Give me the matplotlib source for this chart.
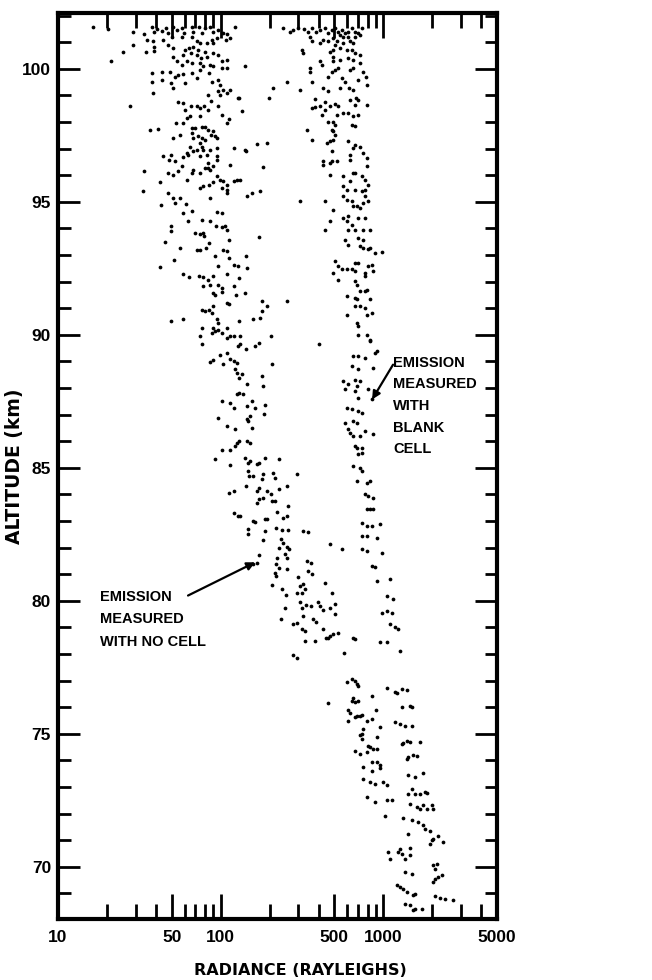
import matplotlib
matplotlib.use('Agg')
import matplotlib.pyplot as plt
from matplotlib.ticker import FixedLocator, NullFormatter

# points: (radiance in rayleighs, altitude in km)
no_cell = [
    (16.3, 101.56), (20.4, 101.49), (29.1, 101.38), (33.8, 101.31), (37.7, 101.59), (38.9, 101.40),
    (40.4, 101.49), (43.4, 101.44), (45.9, 101.53), (47.7, 101.36), (51.2, 101.56), (53.7, 101.46),
    (57.6, 101.53), (59.6, 101.34), (66.4, 101.56), (68.0, 101.40), (74.0, 101.59), (76.5, 101.34),
    (80.2, 101.55), (86.1, 101.59), (90.2, 101.40), (96.8, 101.46), (103, 101.36), (109, 101.31),
    (123, 101.59), (114, 101.15), (108, 101.09), (94.6, 101.15), (88.1, 101.09), (82.1, 100.96),
    (90.2, 100.96), (74.7, 100.96), (71.3, 101.03), (66.4, 101.21), (57.6, 101.21), (50.0, 101.21),
    (44.4, 101.09), (38.6, 101.03), (35.1, 101.09), (29.1, 100.90), (25.2, 100.63), (21.1, 100.30),
    (34.8, 100.65), (38.9, 100.84), (38.9, 100.69), (47.7, 100.90), (51.2, 100.80), (60.4, 100.71),
    (64.2, 100.78), (68.0, 100.84), (73.0, 100.71), (80.2, 100.65), (90.2, 100.59), (96.8, 100.53),
    (101.5, 100.28), (109, 100.34), (51.2, 100.46), (58.5, 100.53), (65.5, 100.61), (71.3, 100.53),
    (76.1, 100.40), (82.1, 100.46), (53.7, 100.28), (57.6, 100.15), (61.8, 100.28), (66.4, 100.21),
    (74.7, 100.21), (78.3, 100.09), (86.1, 100.15), (101.5, 100.03), (109, 100.03), (141, 100.09),
    (37.7, 99.84), (43.8, 99.59), (48.9, 99.90), (49.3, 99.46), (51.2, 99.27), (54.5, 99.77),
    (59.0, 99.81), (60.4, 99.46), (66.4, 99.84), (71.3, 99.65), (74.7, 99.96), (85.3, 99.84),
    (90.2, 100.09), (88.1, 99.52), (96.8, 99.59), (99.2, 99.40), (104, 99.21), (114, 99.21),
    (96.8, 99.15), (52.4, 99.71), (43.4, 99.90), (37.9, 99.52), (38.6, 99.09), (27.7, 98.59),
    (84.1, 99.02), (86.9, 98.81), (99.2, 99.02), (109, 99.11), (127, 98.90), (130, 98.90),
    (135, 98.40), (55.0, 98.77), (58.5, 98.71), (60.4, 98.46), (65.5, 98.59), (71.3, 98.59),
    (74.7, 98.52), (79.1, 98.59), (84.1, 98.46), (96.8, 98.59), (101.5, 98.27), (113, 98.11),
    (109, 97.96), (52.9, 97.96), (58.5, 97.96), (61.8, 98.15), (64.8, 98.21), (66.4, 97.77),
    (69.6, 97.77), (74.7, 98.21), (76.5, 97.83), (80.2, 97.83), (84.1, 97.71), (90.2, 97.65),
    (36.8, 97.71), (41.4, 97.73), (66.4, 97.58), (68.0, 97.40), (73.0, 97.46), (76.5, 97.40),
    (80.2, 97.33), (87.3, 97.52), (92.4, 97.46), (95.5, 97.40), (64.8, 97.08), (67.3, 96.90),
    (74.7, 97.21), (76.5, 97.08), (78.3, 96.96), (86.1, 96.96), (94.6, 97.02), (120, 97.02),
    (143, 96.93), (167, 97.18), (192, 97.23), (51.2, 97.40), (56.3, 97.52),
    (33.8, 96.15), (44.4, 96.71), (49.3, 96.77), (48.2, 96.58), (52.4, 96.52), (58.5, 96.68),
    (61.8, 96.83), (63.3, 96.77), (71.3, 96.96), (74.7, 96.71), (82.1, 96.77), (84.1, 96.46),
    (90.2, 96.33), (94.6, 96.71), (94.6, 96.58), (95.5, 95.96), (114, 96.40), (141, 96.96),
    (183, 96.31), (33.5, 95.39), (42.4, 95.73), (47.7, 96.08), (51.2, 96.02), (55.0, 96.15),
    (57.6, 96.33), (61.8, 95.83), (66.4, 96.08), (68.0, 96.21), (74.7, 96.08), (80.2, 96.27),
    (84.1, 96.27), (86.1, 96.21), (99.2, 95.83), (104, 95.77), (109, 95.64), (120, 95.77),
    (126, 95.83), (74.7, 95.52), (78.3, 95.58), (84.9, 95.64), (86.1, 95.14), (101.5, 95.52),
    (109, 95.33), (110, 95.46), (146, 95.21), (155, 95.33), (175, 95.39), (90.2, 95.73),
    (132, 95.83), (43.0, 94.89), (47.7, 95.33), (51.2, 95.14), (52.4, 94.96), (56.3, 95.14),
    (58.5, 94.58), (61.2, 94.93), (66.4, 94.64), (63.3, 94.27), (76.5, 94.33), (86.1, 94.27),
    (94.6, 94.61), (101.5, 94.58), (93.7, 94.08), (101.5, 94.06), (106, 94.11), (49.3, 94.08),
    (49.3, 93.89), (45.5, 93.48), (69.6, 93.83), (74.7, 93.79), (78.3, 93.83), (79.1, 93.70),
    (85.3, 93.45), (71.9, 93.20), (74.7, 93.20), (81.3, 93.27), (92.4, 92.95), (110, 93.95),
    (113, 93.58), (171, 93.67), (56.3, 93.27), (51.7, 92.80), (42.4, 92.55), (104, 93.20),
    (109, 93.14), (112, 92.89), (120, 92.64), (127, 92.60), (145, 92.52), (143, 92.98),
    (96.8, 92.58), (58.5, 92.27), (64.2, 92.18), (74.0, 92.23), (78.3, 92.18), (84.1, 92.08),
    (90.2, 92.20), (109, 92.27), (129, 92.14), (78.3, 91.85), (86.1, 91.89), (96.8, 91.89),
    (101.5, 91.76), (120, 91.83), (90.2, 91.58), (92.4, 91.51), (101.5, 91.60), (124, 91.51),
    (141, 91.58), (58.5, 90.60), (49.3, 90.51), (76.5, 90.95), (80.2, 90.91), (85.3, 90.95),
    (90.2, 91.08), (88.1, 90.83), (94.6, 90.58), (96.8, 90.45), (109, 91.20), (113, 91.16),
    (159, 90.58), (175, 90.64), (179, 90.89), (192, 91.10), (179, 91.26), (129, 90.51),
    (109, 90.26), (90.2, 90.26), (76.5, 90.26),
    (255, 91.26), (255, 99.52), (209, 99.27), (199, 98.90),
    # 90 - 78 km
    (74.7, 89.95), (76.5, 89.67), (88.1, 90.08), (92.4, 90.14), (96.8, 90.20), (101.5, 90.08),
    (109, 89.89), (114, 89.95), (120, 89.95), (132, 89.95), (143, 89.47), (163, 89.57),
    (173, 89.70), (203, 89.97), (86.1, 88.97), (90.2, 89.07), (99.2, 89.26), (109, 89.32),
    (114, 89.10), (120, 89.01), (126, 88.95), (127, 89.57), (132, 89.64), (104, 88.89),
    (206, 88.92), (123, 88.70), (126, 88.57), (129, 88.39), (135, 88.51), (145, 88.14),
    (179, 88.47), (183, 88.07), (101.5, 87.51), (114, 87.45), (120, 87.26), (126, 87.76),
    (129, 87.82), (138, 87.76), (145, 87.32), (145, 86.82), (152, 86.95), (155, 87.51),
    (163, 87.26), (188, 87.38), (185, 87.01), (96.8, 86.88), (109, 86.57), (123, 86.45),
    (148, 86.76), (155, 86.51), (126, 85.94), (129, 86.01), (145, 86.01), (152, 85.94),
    (101.5, 85.69), (114, 85.69), (123, 85.82), (141, 85.38), (148, 85.19), (152, 85.26),
    (167, 85.13), (171, 85.19), (188, 85.38), (230, 85.32), (92.4, 85.32), (114, 85.09),
    (148, 84.88), (150, 84.69), (159, 84.69), (183, 84.76), (179, 84.57), (211, 84.79),
    (216, 84.63), (294, 84.76), (143, 84.32), (171, 84.26), (167, 84.13), (192, 84.13),
    (203, 84.01), (227, 84.19), (255, 84.32), (113, 84.07), (120, 84.13), (167, 83.67),
    (173, 83.82), (183, 83.88), (206, 83.75), (216, 83.75), (261, 83.57), (223, 83.34),
    (255, 83.19), (120, 83.32), (127, 83.19), (132, 83.19), (159, 83.00), (163, 82.97),
    (188, 83.07), (192, 83.09), (243, 83.13), (219, 82.73), (237, 82.67), (261, 82.67),
    (323, 82.63), (346, 82.60), (148, 82.72), (148, 82.53), (188, 82.63), (183, 82.29),
    (234, 82.32), (243, 82.19), (257, 82.04), (265, 81.94), (249, 81.75), (257, 81.63),
    (227, 82.00), (171, 81.71), (167, 81.44), (159, 81.38), (221, 81.63), (219, 81.38),
    (230, 81.25), (257, 81.19), (338, 81.50), (358, 81.44), (346, 81.13), (363, 81.00),
    (217, 81.06), (219, 80.94), (298, 80.88), (308, 80.56), (323, 80.63), (330, 80.44),
    (439, 80.69), (482, 80.31), (206, 80.59), (237, 80.44), (252, 80.21), (294, 80.29),
    (315, 80.31), (308, 79.94), (315, 79.75), (323, 79.44), (335, 79.85), (358, 79.81),
    (399, 79.96), (409, 79.81), (428, 79.65), (471, 79.75), (505, 79.87), (249, 79.75),
    (234, 79.31), (280, 79.12), (294, 79.16), (315, 78.94), (330, 78.87), (372, 79.31),
    (386, 79.19), (424, 78.94), (445, 78.62), (471, 78.69), (505, 79.50), (494, 78.75),
    (530, 78.81), (330, 78.50), (381, 78.50), (460, 78.62), (655, 78.62), (671, 78.56),
    (405, 89.67), (467, 82.13), (555, 81.94),
    (280, 77.97), (296, 77.84), (574, 78.04),
    # below 77 km, right-hand branch
    (1269, 78.13), (1050, 76.71), (1182, 76.56), (1210, 76.54), (1299, 76.69), (1394, 76.66),
    (1299, 76.00), (1461, 76.06), (1496, 76.00), (1182, 75.44), (1269, 75.38), (1361, 75.31),
    (1496, 75.29), (1299, 74.62), (1330, 74.66), (1394, 74.75), (1449, 74.71), (1684, 74.71),
    (1394, 74.06), (1427, 74.12), (1532, 74.19), (1606, 74.16), (1427, 73.46), (1569, 73.37),
    (1765, 73.54), (1427, 72.75), (1496, 72.93), (1569, 72.75), (1684, 72.75), (1807, 72.83),
    (1850, 72.78), (1461, 72.37), (1606, 72.25), (1684, 72.18), (1765, 72.33), (1850, 72.16),
    (1986, 72.33), (2034, 72.18), (1330, 71.85), (1496, 71.77), (1644, 71.68), (1765, 71.56),
    (1807, 71.43), (1940, 71.33), (2034, 71.06), (1986, 71.00), (2183, 71.16), (2343, 70.93),
    (1940, 70.87), (1427, 71.25), (1269, 70.68), (1101, 70.31), (1075, 70.56), (1239, 70.56),
    (1299, 70.49), (1361, 70.31), (1461, 70.43), (1461, 70.71), (2034, 70.06), (2082, 69.93),
    (2132, 70.12), (2183, 69.62), (2034, 69.43), (2289, 69.68), (2082, 69.53), (1361, 69.81),
    (1496, 69.74), (1210, 69.31), (1269, 69.24), (1330, 69.18), (1394, 69.06), (1569, 68.99),
    (1361, 68.62), (1461, 68.55), (1532, 68.37), (1569, 68.43), (1724, 68.43), (2082, 68.90),
    (2235, 68.83), (2399, 68.80), (2674, 68.74), (1532, 68.95),
]

blank_cell = [
    (243, 101.53), (267, 101.40), (277, 101.46), (301, 101.53), (326, 101.49), (346, 101.40),
    (363, 101.53), (386, 101.40), (409, 101.46), (439, 101.53), (460, 101.34), (482, 101.46),
    (505, 101.53), (530, 101.40), (555, 101.46), (582, 101.34), (610, 101.40), (640, 101.53),
    (671, 101.40), (703, 101.34), (737, 101.53), (542, 101.28), (569, 101.21), (610, 101.21),
    (671, 101.21), (355, 101.19), (363, 101.03), (428, 101.09), (460, 101.03), (494, 101.15),
    (517, 101.03), (569, 100.96), (625, 101.03), (655, 100.96), (720, 101.28), (505, 100.90),
    (409, 100.96), (315, 100.71), (323, 100.59), (471, 100.65), (494, 100.71), (542, 100.78),
    (596, 100.71), (640, 100.71), (671, 100.59), (720, 100.53), (409, 100.28), (418, 100.15),
    (494, 100.46), (494, 100.28), (542, 100.34), (610, 100.40), (655, 100.34), (720, 100.21),
    (755, 99.90), (784, 99.71), (355, 100.03), (355, 99.90), (363, 99.52), (460, 99.71),
    (482, 99.90), (505, 99.96), (530, 100.03), (555, 99.65), (582, 99.52), (625, 99.96),
    (655, 100.03), (703, 99.59), (791, 99.40), (428, 99.27), (460, 99.15), (542, 99.27),
    (619, 99.27), (655, 99.21), (625, 98.84), (681, 98.90), (703, 98.84), (308, 99.21),
    (381, 98.87), (409, 98.59), (439, 98.77), (471, 98.61), (505, 98.67), (530, 98.61),
    (671, 98.65), (791, 98.65), (363, 98.52), (381, 98.55), (418, 98.27), (439, 98.46),
    (460, 98.02), (494, 98.02), (505, 97.90), (517, 98.27), (569, 98.34), (610, 98.34),
    (655, 98.21), (703, 98.27), (640, 97.90), (671, 97.86), (494, 97.65), (505, 97.52),
    (482, 97.71), (338, 97.71), (363, 97.33), (449, 97.21), (471, 97.27), (494, 97.33),
    (610, 97.27), (625, 96.77), (655, 97.02), (671, 97.15), (720, 97.08), (755, 96.83),
    (791, 96.65), (625, 96.58), (482, 96.90), (424, 96.52), (428, 96.40), (471, 96.46),
    (482, 96.52), (522, 96.52), (471, 96.02), (569, 95.96), (625, 95.77), (655, 96.08),
    (671, 96.08), (737, 95.96), (773, 95.83), (791, 96.33), (810, 95.64), (569, 95.58),
    (596, 95.46), (671, 95.46), (737, 95.39), (773, 95.46), (569, 95.21), (596, 95.08),
    (640, 95.02), (655, 94.83), (687, 94.83), (720, 94.77), (755, 94.96), (810, 95.02),
    (773, 95.21), (439, 95.02), (308, 95.02), (494, 94.71), (569, 94.39), (610, 94.46),
    (596, 94.27), (610, 93.95), (640, 94.14), (671, 93.95), (755, 93.95), (830, 93.95),
    (703, 94.39), (773, 94.39), (471, 94.27), (439, 93.95), (582, 93.58), (610, 93.39),
    (703, 93.64), (755, 93.58), (720, 93.33), (755, 93.27), (810, 93.23), (830, 93.27),
    (890, 93.08), (979, 93.12), (505, 92.77), (530, 92.58), (555, 92.46), (596, 92.46),
    (640, 92.46), (671, 92.70), (703, 92.70), (671, 92.39), (773, 92.33), (810, 92.58),
    (849, 92.64), (870, 92.39), (773, 92.20), (494, 92.33), (530, 92.08), (671, 92.01),
    (687, 91.89), (720, 91.64), (773, 91.64), (671, 91.39), (687, 91.33), (791, 91.70),
    (596, 91.45), (671, 91.08), (720, 91.08), (773, 91.01), (830, 91.33), (791, 90.76),
    (849, 90.83), (596, 90.76), (687, 90.45), (703, 90.33),
    # 90 - 78 km
    (703, 90.01), (791, 90.01), (830, 89.82), (890, 89.32), (912, 89.39), (655, 89.20),
    (703, 89.20), (773, 89.14), (830, 89.76), (703, 88.70), (870, 88.76), (640, 88.82),
    (569, 88.26), (610, 88.14), (671, 88.32), (687, 88.07), (720, 88.26), (671, 87.88),
    (703, 87.63), (582, 87.95), (810, 87.95), (849, 87.57), (596, 87.26), (640, 87.20),
    (703, 87.13), (737, 87.07), (582, 86.70), (610, 86.45), (655, 86.76), (687, 86.70),
    (625, 86.32), (655, 86.20), (720, 86.20), (773, 86.38), (870, 86.26), (671, 85.82),
    (687, 85.76), (737, 85.76), (703, 85.51), (737, 85.57), (655, 85.07), (720, 85.01),
    (737, 84.88), (687, 84.51), (791, 84.44), (830, 84.51), (773, 84.01), (810, 83.94),
    (870, 83.88), (791, 83.44), (830, 83.44), (870, 83.47), (737, 82.94), (791, 82.82),
    (849, 82.82), (955, 82.88), (737, 82.44), (791, 82.44), (912, 82.38), (737, 81.94),
    (791, 81.88), (979, 81.81), (849, 81.31), (890, 81.29), (912, 80.75), (1101, 80.84),
    (1050, 80.19), (1154, 80.06), (979, 79.56), (1050, 79.62), (1127, 79.56), (1101, 79.12),
    (1182, 79.00), (1239, 78.96), (955, 78.47), (1050, 78.44),
    # below 77 km, left-hand branch
    (596, 76.96), (640, 77.07), (671, 77.00), (687, 76.88), (703, 76.81), (655, 76.34),
    (640, 76.25), (671, 76.19), (703, 76.25), (610, 75.88), (625, 75.79), (687, 75.69),
    (720, 75.69), (737, 75.71), (671, 75.63), (610, 75.50), (791, 75.50), (849, 75.54),
    (904, 75.88), (849, 76.44), (460, 76.16), (955, 75.25), (755, 75.19), (737, 75.00),
    (720, 74.94), (737, 74.81), (912, 74.87), (810, 74.56), (830, 74.50), (870, 74.44),
    (912, 74.44), (671, 74.34), (720, 74.25), (791, 74.31), (849, 73.96), (912, 73.94),
    (955, 73.84), (955, 73.71), (755, 73.75), (849, 73.62), (755, 73.31), (830, 73.19),
    (890, 73.12), (791, 72.62), (890, 72.43), (1002, 73.19), (1050, 73.06), (1050, 72.50),
    (1127, 72.53), (1026, 71.93),
]

x_major = [10, 50, 100, 500, 1000, 5000]
x_minor = [20, 30, 40, 60, 70, 80, 90, 200, 300, 400, 600, 700, 800, 900, 2000, 3000, 4000]
y_major = [70, 75, 80, 85, 90, 95, 100]
y_minor = list(range(68, 103))

tick_font = dict(family='Liberation Sans', weight='bold', size=12.5)
note_font = dict(family='Liberation Sans', weight='bold', size=10.5)
label_font = dict(family='DejaVu Sans', weight='bold')

fig = plt.figure(figsize=(6.52, 9.8), dpi=100)
ax = fig.add_axes([58/652, 61/980, 439/652, 906/980])

for pts in (no_cell, blank_cell):
    r, a = zip(*pts)
    ax.plot(r, a, 'o', ms=2.7, color='black', mec='none')

ax.set_xscale('log')
ax.set_xlim(10, 5000)
ax.set_ylim(68.04, 102.1)

ax.xaxis.set_major_locator(FixedLocator(x_major))
ax.xaxis.set_minor_locator(FixedLocator(x_minor))
ax.xaxis.set_minor_formatter(NullFormatter())
ax.set_xticklabels([str(v) for v in x_major], **tick_font)
ax.yaxis.set_major_locator(FixedLocator(y_major))
ax.yaxis.set_minor_locator(FixedLocator(y_minor))
ax.set_yticklabels([str(v) for v in y_major], **tick_font)

ax.tick_params(which='both', direction='in', top=True, right=True, width=2, color='black')
ax.tick_params(axis='x', which='major', length=18, pad=8)
ax.tick_params(axis='x', which='minor', length=11)
ax.tick_params(axis='y', which='major', length=16, pad=5)
ax.tick_params(axis='y', which='minor', length=9)
for s in ax.spines.values():
    s.set_linewidth(3)

fig.text(15/652, 1 - 466/980, 'ALTITUDE (km)', rotation=90, ha='center', va='center',
         size=13.5, **label_font)
fig.text(300/652, 1 - 970/980, 'RADIANCE (RAYLEIGHS)', ha='center', va='center',
         size=11.5, **label_font)

arrow = dict(arrowstyle='-|>', lw=1.6, color='black', mutation_scale=12, shrinkA=0, shrinkB=0)
ax.text(18.1, 80.42, 'EMISSION\nMEASURED\nWITH NO CELL', ha='left', va='top',
        linespacing=1.8, **note_font)
ax.annotate('', xy=(163, 81.45), xytext=(63, 80.2), arrowprops=arrow)
ax.text(1148, 89.22, 'EMISSION\nMEASURED\nWITH\nBLANK\nCELL', ha='left', va='top',
        linespacing=1.7, **note_font)
ax.annotate('', xy=(853, 87.57), xytext=(1148, 88.88), arrowprops=arrow)

fig.savefig('out.png', dpi=100, facecolor='white')
